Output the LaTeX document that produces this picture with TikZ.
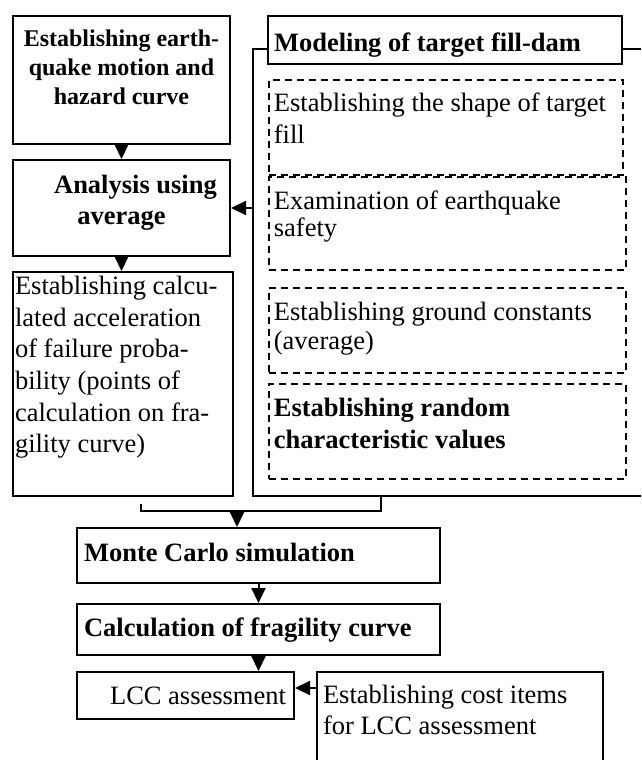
\documentclass[tikz,border=0pt]{standalone}
\usepackage{fontspec}
\setmainfont{Liberation Serif}
\usetikzlibrary{arrows.meta, positioning, calc}
\tikzset{
  box/.style={draw, line width=2pt, fill=white, anchor=north west, inner xsep=5pt, inner ysep=0pt, font=\fontsize{26.5}{31.5}\selectfont},
  dbox/.style={box, line width=1.8pt, dash pattern=on 7pt off 5pt},
  arr/.style={line width=2pt, -{Triangle[width=14pt,length=15pt]}},
  link/.style={line width=2pt}
}
% height, width, top padding, text
\newcommand{\boxtext}[4]{\parbox[c][#1][t]{#2}{\vspace*{#3}#4}}

\begin{document}
\begin{tikzpicture}[x=1pt, y=1pt]
  \useasboundingbox (0,0) rectangle (641,-760);
  \clip (0,0) rectangle (641,-760);

  % left column
  \node[box, font=\bfseries\fontsize{24}{29}\selectfont] (quake) at (12,-15)
    {\boxtext{128pt}{207pt}{13.5pt}{\centering Establishing earth-\\quake motion and\\hazard curve}};
  \node[box, font=\bfseries\fontsize{26.5}{31}\selectfont] (avg) at (12,-159)
    {\boxtext{96pt}{207pt}{15pt}{\centering \hspace*{28pt}Analysis using\\average}};
  \node[box, inner xsep=2pt, font=\fontsize{26.5}{31.7}\selectfont] (fail) at (12,-271)
    {\boxtext{224pt}{216pt}{4pt}{\raggedright Establishing calcu-\\lated acceleration\\of failure proba-\\bility (points of\\calculation on fra-\\gility curve)}};

  % model of the fill-dam
  \node[draw, line width=2pt, anchor=north west, minimum width=420pt, minimum height=447pt] (frame) at (252,-48) {};
  \node[box, inner xsep=6pt, font=\bfseries\fontsize{26.5}{31.5}\selectfont] (model) at (267,-15)
    {\boxtext{48pt}{342pt}{17pt}{\raggedright Modeling of target fill-dam}};
  \node[dbox, font=\fontsize{26.5}{32}\selectfont] (shape) at (268,-79)
    {\boxtext{95pt}{344pt}{13pt}{\raggedright Establishing the shape of target\\fill}};
  \node[dbox, font=\fontsize{26.5}{27}\selectfont] (safety) at (268,-176)
    {\boxtext{93pt}{347pt}{14pt}{\raggedright Examination of earthquake\\safety}};
  \node[dbox, font=\fontsize{26.5}{29}\selectfont] (ground) at (268,-287)
    {\boxtext{85pt}{347pt}{14pt}{\raggedright Establishing ground constants\\(average)}};
  \node[dbox, font=\bfseries\fontsize{26.5}{32}\selectfont] (random) at (268,-383)
    {\boxtext{95pt}{347pt}{14pt}{\raggedright Establishing random\\characteristic values}};

  % lower chain
  \node[box, inner xsep=7pt, font=\bfseries\fontsize{26.5}{31.5}\selectfont] (monte) at (76,-527)
    {\boxtext{55pt}{349pt}{15pt}{\raggedright Monte Carlo simulation}};
  \node[box, inner xsep=7pt, font=\bfseries\fontsize{26.5}{31.5}\selectfont] (fragility) at (76,-603)
    {\boxtext{51pt}{349pt}{14pt}{\raggedright Calculation of fragility curve}};
  \node[box, inner xsep=8pt] (lcc) at (76,-671)
    {\boxtext{47pt}{201pt}{14.5pt}{\raggedleft LCC assessment}};
  \node[box, inner xsep=6pt] (cost) at (316,-671)
    {\boxtext{100pt}{274pt}{13pt}{\raggedright Establishing cost items\\for LCC assessment}};

  % connectors
  \draw[arr] (quake.south) -- (avg.north);
  \draw[arr] (avg.south) -- (avg.south |- fail.north);
  \draw[arr] (frame.west |- avg.east) -- (avg.east);
  \coordinate (join) at (237,-511);
  \draw[link] ([xshift=18pt,yshift=-7pt]fail.south) |- (join) -| ([xshift=129pt]frame.south west);
  \draw[arr] (join) -- (join |- monte.north);
  \draw[arr] (monte.south) -- (fragility.north);
  \draw[arr] (fragility.south) -- (fragility.south |- lcc.north);
  \draw[arr] ([yshift=7.5pt]lcc.east -| cost.west) -- ([yshift=7.5pt]lcc.east);
\end{tikzpicture}
\end{document}
